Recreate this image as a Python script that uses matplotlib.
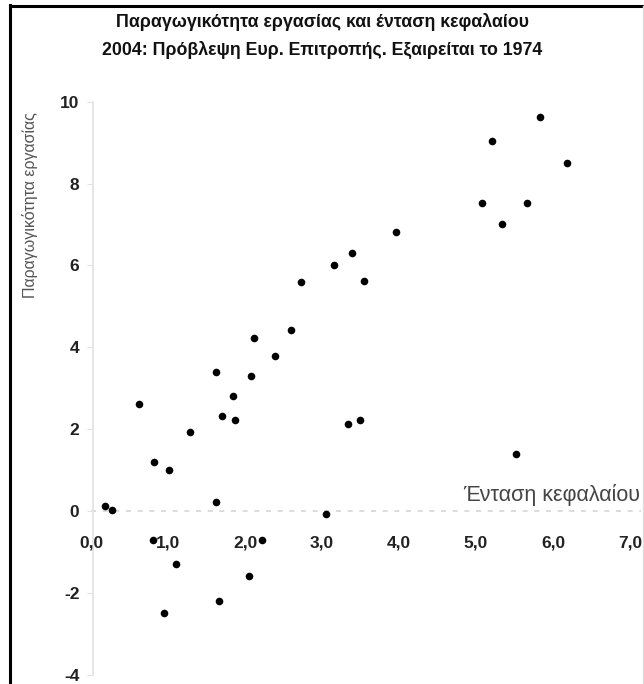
import matplotlib
matplotlib.use("Agg")
import matplotlib.pyplot as plt
from matplotlib.lines import Line2D
import matplotlib.transforms as mtransforms

# Data
capital_intensity = [0.18, 0.27, 0.62, 0.82, 1.01, 1.29, 1.62, 1.70, 1.85, 1.87,
                     1.62, 2.08, 2.12, 2.39, 2.60, 2.73, 0.81, 2.22, 1.10, 2.05,
                     1.66, 0.95, 3.05, 3.34, 3.49, 5.52, 3.16, 3.39, 3.55, 3.96,
                     5.08, 5.34, 5.66, 5.21, 5.83, 6.18]
labour_productivity = [0.12, 0.02, 2.62, 1.20, 1.00, 1.93, 0.22, 2.32, 2.81, 2.22,
                       3.40, 3.30, 4.23, 3.79, 4.43, 5.60, -0.71, -0.71, -1.30, -1.60,
                       -2.20, -2.50, -0.08, 2.13, 2.22, 1.40, 6.01, 6.30, 5.62, 6.82,
                       7.53, 7.02, 7.53, 9.05, 9.63, 8.51]
x_ticks = [0, 1, 2, 3, 4, 5, 6, 7]
x_tick_labels = ["0,0", "1,0", "2,0", "3,0", "4,0", "5,0", "6,0", "7,0"]
y_ticks = [-4, -2, 0, 2, 4, 6, 8, 10]
y_tick_labels = ["-4", "-2", "0", "2", "4", "6", "8", "10"]
title_lines = ["Παραγωγικότητα εργασίας και ένταση κεφαλαίου",
               "2004: Πρόβλεψη Ευρ. Επιτροπής. Εξαιρείται το 1974"]
x_label = "Ένταση κεφαλαίου"
y_label = "Παραγωγικότητα εργασίας"

FONT = ["Liberation Sans", "DejaVu Sans"]
W, H = 644, 684
fig = plt.figure(figsize=(W / 100, H / 100), dpi=100)
fig.patch.set_facecolor("white")

# frame lines (left & top)
fig.add_artist(Line2D([10 / W, 10 / W], [0, 1 - 5 / H], color="black", lw=2.2,
                      transform=fig.transFigure))
fig.add_artist(Line2D([10 / W, 1], [1 - 6 / H, 1 - 6 / H], color="black", lw=2.2,
                      transform=fig.transFigure))
fig.add_artist(Line2D([1 - 1 / W, 1 - 1 / W], [0, 1 - 6 / H], color="#dddddd", lw=1,
                      transform=fig.transFigure))

left, right = 91, 630
top, bottom = 101.7, 674.7
ax = fig.add_axes([left / W, 1 - bottom / H, (right - left) / W, (bottom - top) / H])
ax.set_xlim(0, 7)
ax.set_ylim(-4, 10)
for s in ["top", "right", "bottom"]:
    ax.spines[s].set_visible(False)
ax.spines["left"].set_color("#e2e2e2")
ax.spines["left"].set_linewidth(1.2)
ax.spines["left"].set_position(("data", 0.03))

ax.axhline(0, color="#d5d5d5", lw=1.2, ls=(0, (3, 4)), zorder=1, xmax=1.02, clip_on=False)

ax.scatter(capital_intensity, labour_productivity, s=30, color="black", zorder=3,
           clip_on=False, linewidths=0)

ax.set_yticks(y_ticks)
ax.set_yticklabels(y_tick_labels, fontfamily=FONT, fontweight="bold", fontsize=12.5,
                   color="#222222")
ax.tick_params(axis="y", length=4, color="#e2e2e2", pad=6)

ax.set_xticks([])
offset = mtransforms.ScaledTranslation(0, -32 / 100, fig.dpi_scale_trans)
for xv, lab in zip(x_ticks, x_tick_labels):
    ax.text(xv, 0, lab, ha="center", va="center", fontfamily=FONT,
            fontweight="bold", fontsize=12.5, color="#222222",
            transform=ax.transData + offset)

fig.text(640 / W, 1 - 495 / H, x_label, ha="right", va="center", fontsize=15.5,
         color="#444444", fontfamily=FONT)
fig.text(30 / W, 1 - 112 / H, y_label, ha="center", va="top", rotation=90,
         fontsize=11.5, color="#555555", fontfamily=FONT)

fig.text(322 / W, 1 - 22 / H, title_lines[0], ha="center", va="center",
         fontfamily=FONT, fontweight="bold", fontsize=12.8, color="#111111")
fig.text(322 / W, 1 - 50 / H, title_lines[1], ha="center", va="center",
         fontfamily=FONT, fontweight="bold", fontsize=12.8, color="#111111")

fig.savefig("out.png", dpi=100, facecolor="white")
